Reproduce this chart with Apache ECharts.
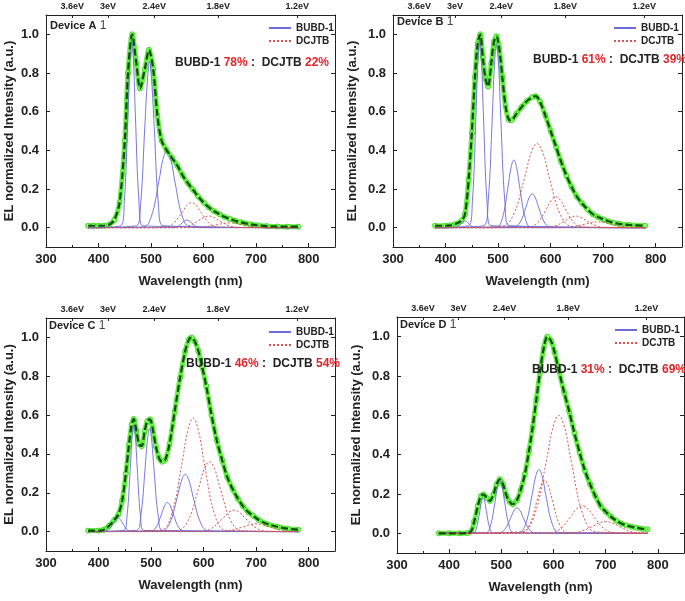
<!DOCTYPE html>
<html>
<head>
    <meta charset="utf-8">
    <title>EL spectra</title>
    <script src="https://cdn.jsdelivr.net/npm/echarts@6/dist/echarts.min.js"></script>
</head>
<body style="margin:0;background:#fff;">
    <div id="main" style="width: 685px;height:601px;"></div>
    <script>
        // axis stuff
        var eVPos = [350, 418, 506, 628, 778];
        var eVLabels = ['3.6eV', '3eV', '2.4eV', '1.8eV', '1.2eV'];
        var yTicks = [0, 0.2, 0.4, 0.6, 0.8, 1.0];
        var devices = ['Device A', 'Device B', 'Device C', 'Device D'];
        var bubdShare = ['78%', '61%', '46%', '31%'];
        var dcjtbShare = ['22%', '39%', '54%', '69%'];

        // measured EL spectra [nm, intensity]
        var specA = [[380, 0.01], [390, 0.01], [400, 0.01], [410, 0.01], [420, 0.015], [430, 0.04], [440, 0.13], [450, 0.45], [456, 0.8], [464, 1.0], [472, 0.85], [479, 0.72], [488, 0.82], [496, 0.92], [504, 0.82], [512, 0.58], [520, 0.45], [530, 0.4], [540, 0.36], [550, 0.32], [560, 0.27], [570, 0.23], [580, 0.195], [590, 0.16], [600, 0.13], [610, 0.105], [620, 0.085], [630, 0.07], [640, 0.055], [650, 0.045], [660, 0.035], [670, 0.028], [680, 0.022], [690, 0.017], [700, 0.013], [720, 0.008], [740, 0.006], [760, 0.005], [780, 0.005]];
        var specB = [[380, 0.01], [400, 0.01], [410, 0.012], [420, 0.02], [430, 0.035], [437, 0.07], [444, 0.25], [450, 0.49], [456, 0.78], [461, 0.95], [466, 1.0], [471, 0.88], [476, 0.77], [481, 0.73], [487, 0.85], [492, 0.96], [497, 0.99], [502, 0.93], [508, 0.78], [514, 0.63], [520, 0.56], [525, 0.555], [535, 0.59], [545, 0.625], [555, 0.655], [565, 0.675], [572, 0.68], [580, 0.65], [590, 0.58], [600, 0.5], [610, 0.42], [620, 0.34], [630, 0.27], [640, 0.21], [650, 0.16], [660, 0.125], [670, 0.095], [680, 0.07], [690, 0.055], [700, 0.043], [710, 0.033], [720, 0.025], [730, 0.02], [750, 0.014], [780, 0.01]];
        var specC = [[380, 0.005], [400, 0.005], [410, 0.01], [420, 0.03], [430, 0.06], [438, 0.09], [445, 0.16], [452, 0.3], [458, 0.45], [463, 0.55], [467, 0.58], [472, 0.52], [477, 0.45], [482, 0.44], [488, 0.52], [493, 0.57], [498, 0.578], [503, 0.53], [509, 0.44], [515, 0.38], [521, 0.36], [527, 0.37], [535, 0.45], [545, 0.62], [555, 0.79], [565, 0.93], [572, 0.99], [577, 1.0], [583, 0.98], [590, 0.93], [597, 0.85], [605, 0.75], [615, 0.6], [625, 0.47], [635, 0.37], [645, 0.28], [655, 0.22], [665, 0.17], [675, 0.13], [685, 0.1], [695, 0.08], [705, 0.06], [720, 0.04], [740, 0.025], [760, 0.015], [780, 0.01]];
        var specD = [[380, 0.0], [400, 0.0], [420, 0.0], [435, 0.002], [442, 0.01], [448, 0.06], [455, 0.14], [461, 0.19], [466, 0.198], [472, 0.18], [478, 0.165], [485, 0.2], [491, 0.25], [497, 0.275], [503, 0.25], [510, 0.19], [516, 0.16], [522, 0.148], [530, 0.17], [537, 0.22], [545, 0.3], [553, 0.42], [560, 0.54], [567, 0.68], [574, 0.82], [581, 0.94], [588, 1.0], [595, 0.98], [602, 0.92], [610, 0.83], [620, 0.72], [630, 0.62], [640, 0.51], [650, 0.41], [660, 0.32], [670, 0.25], [680, 0.19], [690, 0.14], [700, 0.11], [710, 0.085], [720, 0.065], [730, 0.05], [740, 0.04], [750, 0.033], [760, 0.028], [770, 0.023], [780, 0.02]];

        // fitted components, BUBD-1 (blue) and DCJTB (red)
        var bubdA = [
            [[442, 0.01], [449, 0.13], [456, 0.59], [459.5, 0.86], [463, 0.97], [466.5, 0.86], [470, 0.59], [477, 0.13], [484, 0.01]],
            [[472, 0.01], [480, 0.12], [488, 0.52], [493, 0.76], [497, 0.86], [501, 0.76], [506, 0.52], [514, 0.12], [523, 0.01]],
            [[485, 0.004], [500, 0.054], [515, 0.243], [522.5, 0.353], [530, 0.4], [537.5, 0.353], [545, 0.243], [560, 0.054], [575, 0.004]],
            [[541, 0], [550, 0.005], [559, 0.024], [563.5, 0.035], [568, 0.04], [572.5, 0.035], [577, 0.024], [586, 0.005], [595, 0]]
        ];
        var dcjtbA = [
            [[523, 0.001], [541, 0.018], [559, 0.079], [568, 0.115], [577, 0.13], [586, 0.115], [595, 0.079], [613, 0.018], [631, 0.001]],
            [[550, 0.001], [570, 0.008], [590, 0.036], [600, 0.053], [610, 0.06], [620, 0.053], [630, 0.036], [650, 0.008], [670, 0.001]],
            [[575, 0], [600, 0.003], [625, 0.015], [637.5, 0.022], [650, 0.025], [662.5, 0.022], [675, 0.015], [700, 0.003], [725, 0]]
        ];
        var bubdB = [
            [[416, 0], [423, 0.005], [430, 0.021], [433.5, 0.031], [437, 0.035], [440.5, 0.031], [444, 0.021], [451, 0.005], [458, 0]],
            [[444, 0.011], [451, 0.131], [458, 0.588], [461.5, 0.856], [465, 0.97], [468.5, 0.856], [472, 0.588], [479, 0.131], [486, 0.011]],
            [[473, 0.011], [481, 0.129], [489, 0.576], [493, 0.838], [497, 0.95], [501, 0.838], [505, 0.576], [513, 0.129], [521, 0.011]],
            [[497, 0.004], [508, 0.047], [519, 0.212], [524.5, 0.309], [530, 0.35], [535.5, 0.309], [541, 0.212], [552, 0.047], [563, 0.004]],
            [[529, 0.002], [541, 0.024], [553, 0.106], [559, 0.154], [565, 0.175], [571, 0.154], [577, 0.106], [589, 0.024], [601, 0.002]]
        ];
        var dcjtbB = [
            [[505, 0.005], [528, 0.059], [551, 0.264], [562.5, 0.384], [574, 0.435], [585.5, 0.384], [597, 0.264], [620, 0.059], [643, 0.005]],
            [[556, 0.002], [574, 0.022], [592, 0.097], [601, 0.141], [610, 0.16], [619, 0.141], [628, 0.097], [646, 0.022], [664, 0.002]],
            [[588, 0.001], [608, 0.008], [628, 0.036], [638, 0.053], [648, 0.06], [658, 0.053], [668, 0.036], [688, 0.008], [708, 0.001]],
            [[615, 0], [640, 0.004], [665, 0.018], [677.5, 0.026], [690, 0.03], [702.5, 0.026], [715, 0.018], [740, 0.004], [765, 0]]
        ];
        var bubdC = [
            [[410, 0.001], [419, 0.009], [428, 0.042], [432.5, 0.062], [437, 0.07], [441.5, 0.062], [446, 0.042], [455, 0.009], [464, 0.001]],
            [[447.5, 0.006], [454, 0.074], [460.5, 0.334], [463.8, 0.485], [467, 0.55], [470.2, 0.485], [473.5, 0.334], [480, 0.074], [486.5, 0.006]],
            [[471.5, 0.006], [480, 0.072], [488.5, 0.321], [492.8, 0.468], [497, 0.53], [501.2, 0.468], [505.5, 0.321], [514, 0.072], [522.5, 0.006]],
            [[498, 0.002], [509, 0.02], [520, 0.091], [525.5, 0.132], [531, 0.15], [536.5, 0.132], [542, 0.091], [553, 0.02], [564, 0.002]],
            [[520, 0.003], [535, 0.04], [550, 0.179], [557.5, 0.26], [565, 0.295], [572.5, 0.26], [580, 0.179], [595, 0.04], [610, 0.003]]
        ];
        var dcjtbC = [
            [[517, 0.006], [538, 0.079], [559, 0.355], [569.5, 0.516], [580, 0.585], [590.5, 0.516], [601, 0.355], [622, 0.079], [643, 0.006]],
            [[548, 0.004], [569, 0.049], [590, 0.218], [600.5, 0.318], [611, 0.36], [621.5, 0.318], [632, 0.218], [653, 0.049], [674, 0.004]],
            [[592, 0.001], [614, 0.015], [636, 0.067], [647, 0.097], [658, 0.11], [669, 0.097], [680, 0.067], [702, 0.015], [724, 0.001]],
            [[625, 0], [650, 0.005], [675, 0.024], [687.5, 0.035], [700, 0.04], [712.5, 0.035], [725, 0.024], [750, 0.005], [775, 0]]
        ];
        var bubdD = [
            [[445.5, 0.002], [452, 0.024], [458.5, 0.109], [461.8, 0.159], [465, 0.18], [468.2, 0.159], [471.5, 0.109], [478, 0.024], [484.5, 0.002]],
            [[470, 0.003], [479, 0.037], [488, 0.164], [492.5, 0.238], [497, 0.27], [501.5, 0.238], [506, 0.164], [515, 0.037], [524, 0.003]],
            [[494, 0.001], [506, 0.018], [518, 0.079], [524, 0.115], [530, 0.13], [536, 0.115], [542, 0.079], [554, 0.018], [566, 0.001]],
            [[533, 0.004], [546, 0.044], [559, 0.197], [565.5, 0.287], [572, 0.325], [578.5, 0.287], [585, 0.197], [598, 0.044], [611, 0.004]]
        ];
        var dcjtbD = [
            [[538, 0.007], [562, 0.081], [586, 0.364], [598, 0.53], [610, 0.6], [622, 0.53], [634, 0.364], [658, 0.081], [682, 0.007]],
            [[538, 0.003], [553, 0.037], [568, 0.164], [575.5, 0.238], [583, 0.27], [590.5, 0.238], [598, 0.164], [613, 0.037], [628, 0.003]],
            [[589, 0.002], [611, 0.019], [633, 0.085], [644, 0.124], [655, 0.14], [666, 0.124], [677, 0.085], [699, 0.019], [721, 0.002]],
            [[625, 0.001], [650, 0.008], [675, 0.036], [687.5, 0.053], [700, 0.06], [712.5, 0.053], [725, 0.036], [750, 0.008], [775, 0.001]]
        ];

        var specs = [specA, specB, specC, specD];
        var bubds = [bubdA, bubdB, bubdC, bubdD];
        var dcjtbs = [dcjtbA, dcjtbB, dcjtbC, dcjtbD];

        // layout of the 4 panels
        var grids = [
            { left: 46, top: 15, width: 289, height: 232 },
            { left: 393, top: 15, width: 289, height: 232 },
            { left: 46, top: 318, width: 289, height: 233 },
            { left: 397, top: 317, width: 287, height: 236 }
        ];
        var legendPos = [[263, 18], [608, 18], [263, 322], [609, 320]];
        var ratioPos = [[175, 57], [533, 54], [186, 358], [532, 364]];
        var devPos = [[50, 20], [397, 16], [49, 320], [400, 319]];
        var yNameGap = [30, 34, 30, 34];

        var font = '"Liberation Sans", Arial, sans-serif';
        var myChart = echarts.init(document.getElementById('main'));

        var xAxes = [], yAxes = [], series = [], legends = [], titles = [];

        function withBase(pts) {
            return [[380, 0]].concat(pts, [[780, 0]]);
        }

        for (var i = 0; i < 4; i++) {
            xAxes.push({
                type: 'value', gridIndex: i, min: 300, max: 850, interval: 100,
                axisLine: { onZero: false, lineStyle: { color: '#222', width: 1 } },
                axisTick: { inside: true, length: 4, lineStyle: { color: '#222' } },
                minorTick: { show: true, splitNumber: 2, length: 2, lineStyle: { color: '#222' } },
                splitLine: { show: false },
                axisLabel: { showMaxLabel: false, color: '#222', fontWeight: 'bold', fontSize: 13, fontFamily: font, margin: 6 },
                name: 'Wavelength (nm)', nameLocation: 'middle', nameGap: 28,
                nameTextStyle: { color: '#222', fontWeight: 'bold', fontSize: 13, fontFamily: font }
            });
            xAxes.push({
                type: 'value', gridIndex: i, position: 'top', min: 300, max: 850,
                axisLine: { onZero: false, lineStyle: { color: '#222', width: 1 } },
                axisTick: { inside: true, length: 3, customValues: eVPos, lineStyle: { color: '#222' } },
                splitLine: { show: false },
                axisLabel: {
                    customValues: eVPos, color: '#222', fontWeight: 'bold', fontSize: 9, fontFamily: font, margin: 4,
                    formatter: function (v) { return eVLabels[eVPos.indexOf(v)]; }
                }
            });
            yAxes.push({
                type: 'value', gridIndex: i, min: -0.1, max: 1.1,
                axisLine: { show: true, onZero: false, lineStyle: { color: '#222', width: 1 } },
                axisTick: { show: true, inside: true, length: 4, customValues: yTicks, lineStyle: { color: '#222' } },
                splitLine: { show: false },
                axisLabel: {
                    customValues: yTicks, color: '#222', fontWeight: 'bold', fontSize: 13, fontFamily: font, margin: 7,
                    formatter: function (v) { return v.toFixed(1); }
                },
                name: 'EL normalized Intensity (a.u.)', nameLocation: 'middle', nameGap: yNameGap[i],
                nameTextStyle: { color: '#222', fontWeight: 'bold', fontSize: 13, fontFamily: font }
            });
            yAxes.push({
                type: 'value', gridIndex: i, position: 'right', min: -0.1, max: 1.1,
                axisLine: { show: true, onZero: false, lineStyle: { color: '#222', width: 1 } },
                axisTick: { show: true, inside: true, length: 4, customValues: yTicks, lineStyle: { color: '#222' } },
                splitLine: { show: false },
                axisLabel: { show: false }
            });

            var xi = 2 * i, yi = 2 * i;
            bubds[i].forEach(function (c) {
                series.push({
                    name: 'BUBD-1', type: 'line', xAxisIndex: xi, yAxisIndex: yi, data: withBase(c),
                    symbol: 'none', smooth: 0.4, z: 3,
                    itemStyle: { color: '#6a6ad8' },
                    lineStyle: { color: '#6a6ad8', width: 0.9 }
                });
            });
            dcjtbs[i].forEach(function (c) {
                series.push({
                    name: 'DCJTB', type: 'line', xAxisIndex: xi, yAxisIndex: yi, data: withBase(c),
                    symbol: 'none', smooth: 0.4, z: 3,
                    itemStyle: { color: '#d9534f' },
                    lineStyle: { color: '#d9534f', width: 1, type: [2, 2] }
                });
            });
            series.push({
                name: 'EL', type: 'line', xAxisIndex: xi, yAxisIndex: yi, data: specs[i],
                symbol: 'circle', symbolSize: 5, smooth: 0.3, z: 2,
                itemStyle: { color: '#8cff6a', borderColor: '#3fdc26', borderWidth: 1 },
                lineStyle: { color: '#66ee44', width: 5 }
            });
            series.push({
                name: 'fit', type: 'line', xAxisIndex: xi, yAxisIndex: yi, data: specs[i],
                symbol: 'none', smooth: 0.3, z: 5,
                lineStyle: { color: '#0b4f0b', width: 2.2, type: [7, 3] }
            });

            legends.push({
                data: ['BUBD-1', 'DCJTB'], orient: 'vertical',
                left: legendPos[i][0], top: legendPos[i][1],
                itemWidth: 22, itemHeight: 10, itemGap: 3, selectedMode: false,
                itemStyle: { opacity: 0 },
                textStyle: { color: '#222', fontSize: 10, fontWeight: 'bold', fontFamily: font }
            });
            titles.push({
                left: devPos[i][0], top: devPos[i][1], padding: 0,
                text: '{d|' + devices[i] + '}{c| 1}',
                textStyle: {
                    rich: {
                        d: { fontSize: 11, fontWeight: 'bold', color: '#222', fontFamily: font, verticalAlign: 'middle' },
                        c: { fontSize: 12, fontWeight: 'normal', color: '#444', fontFamily: font, verticalAlign: 'middle' }
                    }
                }
            });
            titles.push({
                left: ratioPos[i][0], top: ratioPos[i][1], padding: 0,
                text: '{b|BUBD-1 }{r|' + bubdShare[i] + '}{b| :  DCJTB }{r|' + dcjtbShare[i] + '}',
                textStyle: {
                    rich: {
                        b: { fontSize: 12, fontWeight: 'bold', color: '#222', fontFamily: font },
                        r: { fontSize: 12, fontWeight: 'bold', color: '#e0262a', fontFamily: font }
                    }
                }
            });
        }

        option = {
            animation: false,
            backgroundColor: '#fff',
            title: titles,
            legend: legends,
            grid: grids,
            xAxis: xAxes,
            yAxis: yAxes,
            series: series
        };
        myChart.setOption(option);
    </script>
</body>
</html>
